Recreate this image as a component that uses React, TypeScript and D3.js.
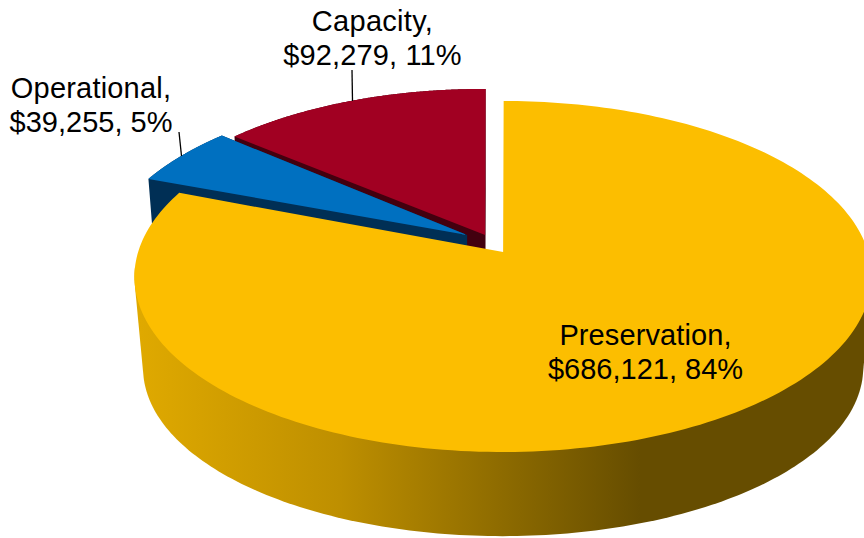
import React from "react";
import * as d3 from "d3";

const categories = ["Preservation", "Operational", "Capacity"];
const amounts = [686121, 39255, 92279];
const percents = [84, 5, 11];

const faceColors = ["#FCBE00", "#0070C0", "#A10022"];
const wallColors = ["url(#presWall)", "#002F55", "#43000F"];

// image-space explosion of each slice, plan radius at slice start / end, angular squeeze at start / end
const shiftX = [0, -36, -18];
const shiftY = [0, -17, -17];
const radiusStart = [1, 0.977, 0.9725];
const radiusEnd = [1, 0.965, 0.9625];
const squeezeStart = [1.62, 1.68, 1.4];
const squeezeEnd = [1.62, 1.357, 1.4];

const W = 864;
const H = 538;
const CX = 507.5;
const U0 = -0.012;
const C = -0.1396;
const top = { a: 136.9, b: 252, R: 365 };
const bottom = { a: 116.7, b: 344.6, R: 356.5 };

type Plane = typeof top;
const project = (p: Plane, u: number, v: number): [number, number] => {
  const den = 1 + C * v;
  return [CX + (p.R * (u + U0)) / den, (p.a * v + p.b) / den];
};

const warp = (theta: number, k: number) => {
  const t = Math.atan2(k * Math.sin(theta), Math.cos(theta));
  return t < 0 ? t + 2 * Math.PI : t;
};

const pie = d3.pie<number>().sort(null).startAngle(0).endAngle(2 * Math.PI);
const arcs = pie(amounts);
const lineGen = d3.line();

function slicePoints(i: number, plane: Plane): [number, number][] {
  const arc = arcs[i];
  const t0 = warp(arc.startAngle, squeezeStart[i]);
  let t1 = warp(arc.endAngle, squeezeEnd[i]);
  if (t1 <= t0) t1 += 2 * Math.PI;
  const rScale = d3.scaleLinear().domain([t0, t1]).range([radiusStart[i], radiusEnd[i]]);
  const move = ([x, y]: [number, number]): [number, number] => [x + shiftX[i], y + shiftY[i]];
  const pts: [number, number][] = [move(project(plane, 0, 0))];
  const n = 240;
  for (let s = 0; s <= n; s++) {
    const t = t0 + ((t1 - t0) * s) / n;
    const r = rScale(t);
    pts.push(move(project(plane, r * Math.sin(t), -r * Math.cos(t))));
  }
  return pts;
}

function presWallHull(): string {
  const pts: [number, number][] = [];
  for (let deg = 95; deg <= 265; deg += 1) {
    const t = (deg * Math.PI) / 180;
    pts.push(project(top, Math.sin(t), -Math.cos(t)));
    pts.push(project(bottom, Math.sin(t), -Math.cos(t)));
  }
  return lineGen(d3.polygonHull(pts)!)! + "Z";
}

function sideHull(i: number): string {
  const pts = [...slicePoints(i, top), ...slicePoints(i, bottom)];
  return lineGen(d3.polygonHull(pts)!)! + "Z";
}

const money = d3.format("$,");
const labelX = [645.5, 91, 372.5];
const labelY = [345, 98, 31];
const nameSpacing = [0.1, 0.2, 0.3];
const valueSpacing = [0, 0, 0.15];
const leaderA: [number, number][] = [[0, 0], [179, 132], [352, 70]];
const leaderB: [number, number][] = [[0, 0], [181.5, 156], [352.5, 101]];

export default function App() {
  return (
    <svg
      width={W}
      height={H}
      viewBox={`0 0 ${W} ${H}`}
      style={{ position: "absolute", left: 0, top: 0, display: "block", background: "#fff" }}
    >
      <defs>
        <linearGradient id="presWall" gradientUnits="userSpaceOnUse" x1={140} x2={640} y1={0} y2={0}>
          <stop offset="0" stopColor="#DFA900" />
          <stop offset="0.4" stopColor="#BE8F00" />
          <stop offset="0.76" stopColor="#886700" />
          <stop offset="1" stopColor="#664D00" />
        </linearGradient>
      </defs>
      {[2, 1].map((i) => (
        <g key={categories[i]}>
          <path d={sideHull(i)} fill={wallColors[i]} />
          <path d={lineGen(slicePoints(i, top))! + "Z"} fill={faceColors[i]} />
        </g>
      ))}
      <path d={presWallHull()} fill={wallColors[0]} />
      <path d={lineGen(slicePoints(0, top))! + "Z"} fill={faceColors[0]} />
      {[1, 2].map((i) => (
        <line
          key={i}
          x1={leaderA[i][0]}
          y1={leaderA[i][1]}
          x2={leaderB[i][0]}
          y2={leaderB[i][1]}
          stroke="#000"
          strokeWidth={1.3}
        />
      ))}
      {categories.map((c, i) => (
        <text
          key={c}
          textAnchor="middle"
          fontFamily="'Liberation Sans', Arial, sans-serif"
          fontSize={29}
          fill="#000"
        >
          <tspan x={labelX[i]} y={labelY[i]} letterSpacing={nameSpacing[i]}>{c},</tspan>
          <tspan x={labelX[i]} y={labelY[i] + 33.5} letterSpacing={valueSpacing[i]}>{`${money(amounts[i])}, ${percents[i]}%`}</tspan>
        </text>
      ))}
    </svg>
  );
}
